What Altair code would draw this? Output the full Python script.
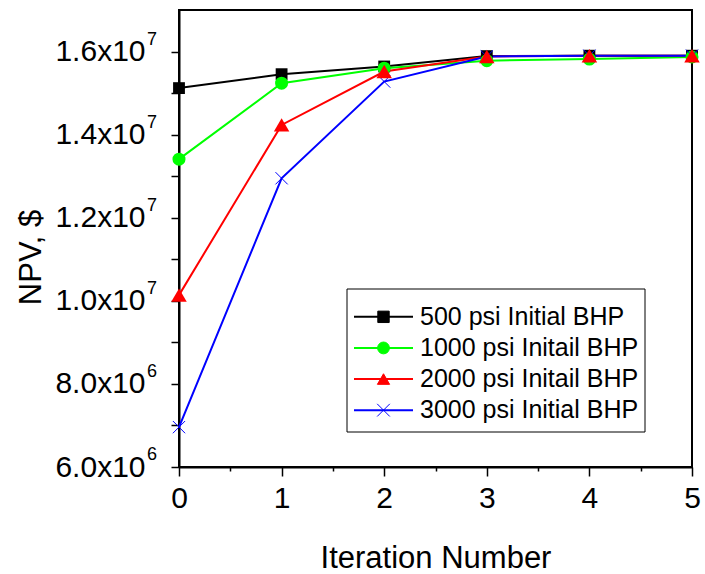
import altair as alt
import pandas as pd

iterations = [0, 1, 2, 3, 4, 5]
series_names = ["\u00a0500 psi Initial BHP", "1000 psi Initail BHP", "2000 psi Initail BHP", "3000 psi Initial BHP"]
npv_500 = [1.512e7, 1.5455e7, 1.564e7, 1.589e7, 1.590e7, 1.590e7]
npv_1000 = [1.341e7, 1.5238e7, 1.560e7, 1.578e7, 1.582e7, 1.587e7]
npv_2000 = [1.0137e7, 1.4234e7, 1.5518e7, 1.588e7, 1.590e7, 1.590e7]
npv_3000 = [6.96e6, 1.2950e7, 1.5277e7, 1.588e7, 1.590e7, 1.590e7]
colors = ["#000000", "#00ff00", "#ff0000", "#0000ff"]
fills = ["#000000", "#00ff00", "#ff0000", "transparent"]

y_tick_values = [6e6, 7e6, 8e6, 9e6, 1e7, 1.1e7, 1.2e7, 1.3e7, 1.4e7, 1.5e7, 1.6e7]
y_label_values = [6e6, 8e6, 1e7, 1.2e7, 1.4e7, 1.6e7]
y_label_exps = ["6", "6", "7", "7", "7", "7"]
x_tick_values = [0, 0.5, 1, 1.5, 2, 2.5, 3, 3.5, 4, 4.5, 5]

rows = []
for name, vals in zip(series_names, [npv_500, npv_1000, npv_2000, npv_3000]):
    for it, v in zip(iterations, vals):
        rows.append({"series": name, "iter": it, "npv": v})
df = pd.DataFrame(rows)
exp_df = pd.DataFrame({"npv": y_label_values, "exp": y_label_exps})
legend_df = pd.DataFrame({"series": series_names})

FONT = "Liberation Sans"
xscale = alt.Scale(domain=[0, 5], nice=False, zero=False)
yscale = alt.Scale(domain=[6e6, 1.7e7], nice=False, zero=False)
color_scale = alt.Scale(domain=series_names, range=colors)

x_axis = alt.Axis(
    title="Iteration Number", values=x_tick_values,
    labelExpr="datum.value % 1 === 0 ? format(datum.value, 'd') : ''",
    tickSize={"condition": {"test": "datum.value % 1 === 0", "value": 9}, "value": 4},
    labelFontSize=30, labelFont=FONT, labelColor="black", labelPadding=7,
    titleFontSize=31, titleFont=FONT, titleFontWeight="normal", titleColor="black",
    titlePadding=30, grid=False, domainColor="black", domainWidth=2,
    tickColor="black", tickWidth=1.5, labelFlush=False, labelOverlap=False,
)
y_axis = alt.Axis(
    title="NPV, $", values=y_tick_values,
    labelExpr="datum.value % 2000000 !== 0 ? '' : (datum.value >= 1e7 ? format(datum.value/1e7, '.1f') : format(datum.value/1e6, '.1f')) + 'x10'",
    tickSize=8, labelFontSize=30, labelFont=FONT, labelColor="black", labelPadding=26,
    titleFontSize=31, titleFont=FONT, titleFontWeight="normal", titleColor="black",
    titleAngle=270, titleBaseline="alphabetic", titleAlign="center",
    titleX=-139, titleY=247, grid=False, domainColor="black", domainWidth=2,
    tickColor="black", tickWidth=1.5, labelFlush=False, labelOverlap=False,
)

base = alt.Chart(df)
lines = base.mark_line(strokeWidth=2).encode(
    x=alt.X("iter:Q", scale=xscale, axis=x_axis),
    y=alt.Y("npv:Q", scale=yscale, axis=y_axis),
    color=alt.Color("series:N", scale=color_scale, sort=series_names, legend=None),
)

def pts(name, **kw):
    return base.transform_filter(alt.datum.series == name).mark_point(**kw).encode(
        x=alt.X("iter:Q", scale=xscale),
        y=alt.Y("npv:Q", scale=yscale),
    )

X_PATH = "M-1,-1L1,1M-1,1L1,-1"
pts_black = pts(series_names[0], shape="square", filled=True, size=140, color=colors[0], opacity=1)
pts_green = pts(series_names[1], shape="circle", filled=True, size=170, color=colors[1], opacity=1)
pts_blue = pts(series_names[3], shape=X_PATH, filled=False, size=150,
               color=colors[3], strokeWidth=1, opacity=1)
pts_red = pts(series_names[2], shape="triangle-up", filled=True, size=240, color=colors[2], opacity=1)

exps = alt.Chart(exp_df).mark_text(align="left", baseline="alphabetic", dy=-7,
                                   fontSize=18, font=FONT, color="black").encode(
    x=alt.value(-32),
    y=alt.Y("npv:Q", scale=yscale),
    text="exp:N",
)

main = alt.layer(lines, pts_black, pts_green, pts_blue, pts_red, exps)

# ---- legend drawn as marks (rows placed by a point scale) ----
leg_y = alt.Y("series:N", sort=series_names, axis=None,
              scale=alt.Scale(domain=series_names, range=[283.5, 423.5], padding=0.5))
leg = alt.Chart(legend_df)
leg_box = leg.transform_filter(alt.datum.series == series_names[0]).mark_rect(
    fill="white", stroke="black", strokeWidth=1).encode(
    x=alt.value(168), x2=alt.value(466), y=alt.value(279), y2=alt.value(422))
leg_lines = leg.mark_rule(strokeWidth=2).encode(
    x=alt.value(175), x2=alt.value(234), y=leg_y,
    color=alt.Color("series:N", scale=color_scale, sort=series_names, legend=None))
leg_marks = leg.mark_point(strokeWidth=1, opacity=1).encode(
    x=alt.value(204.5), y=leg_y,
    shape=alt.Shape("series:N", sort=series_names, legend=None,
                    scale=alt.Scale(domain=series_names, range=["square", "circle", "triangle-up", X_PATH])),
    fill=alt.Fill("series:N", sort=series_names, legend=None,
                  scale=alt.Scale(domain=series_names, range=fills)),
    stroke=alt.Stroke("series:N", sort=series_names, legend=None,
                      scale=alt.Scale(domain=series_names, range=colors)),
    size=alt.Size("series:N", sort=series_names, legend=None,
                  scale=alt.Scale(domain=series_names, range=[130, 160, 240, 180])),
)
leg_text = leg.mark_text(align="left", baseline="middle", fontSize=25, font=FONT,
                         color="black").encode(
    x=alt.value(241), y=leg_y, text="series:N")
legend_group = alt.layer(leg_box, leg_lines, leg_marks, leg_text)

chart = alt.layer(main, legend_group).resolve_scale(y="independent").properties(
    width=513, height=457,
    autosize=alt.AutoSizeParams(type="none"),
    padding={"left": 179, "top": 10, "right": 13, "bottom": 107},
    view=alt.ViewBackground(stroke="black", strokeWidth=2, fill="white"),
).configure(background="white").configure_view(stroke="black", strokeWidth=2)

chart.save("out.html", embed_options={"renderer": "svg", "actions": False})
